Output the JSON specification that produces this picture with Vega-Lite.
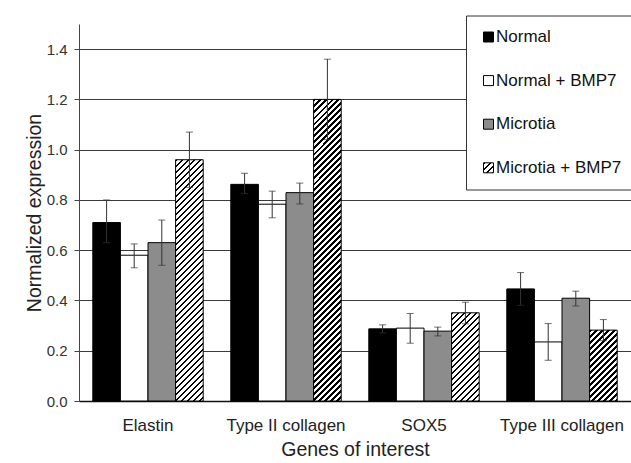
{
  "$schema": "https://vega.github.io/schema/vega-lite/v6.json",
  "width": 552,
  "height": 377,
  "autosize": {"type": "none"},
  "padding": {"left": 79, "top": 24, "right": 0, "bottom": 62},
  "background": "white",
  "config": {
    "font": "Liberation Sans",
    "view": {"stroke": null}
  },
  "params": [
    {"name": "hatch", "value": [
      {"offset":0,"color":"#000"},{"offset":0.00727,"color":"#000"},{"offset":0.00727,"color":"#fff"},{"offset":0.01818,"color":"#fff"},
      {"offset":0.01818,"color":"#000"},{"offset":0.02545,"color":"#000"},{"offset":0.02545,"color":"#fff"},{"offset":0.03636,"color":"#fff"},
      {"offset":0.03636,"color":"#000"},{"offset":0.04364,"color":"#000"},{"offset":0.04364,"color":"#fff"},{"offset":0.05455,"color":"#fff"},
      {"offset":0.05455,"color":"#000"},{"offset":0.06182,"color":"#000"},{"offset":0.06182,"color":"#fff"},{"offset":0.07273,"color":"#fff"},
      {"offset":0.07273,"color":"#000"},{"offset":0.08,"color":"#000"},{"offset":0.08,"color":"#fff"},{"offset":0.09091,"color":"#fff"},
      {"offset":0.09091,"color":"#000"},{"offset":0.09818,"color":"#000"},{"offset":0.09818,"color":"#fff"},{"offset":0.10909,"color":"#fff"},
      {"offset":0.10909,"color":"#000"},{"offset":0.11636,"color":"#000"},{"offset":0.11636,"color":"#fff"},{"offset":0.12727,"color":"#fff"},
      {"offset":0.12727,"color":"#000"},{"offset":0.13455,"color":"#000"},{"offset":0.13455,"color":"#fff"},{"offset":0.14545,"color":"#fff"},
      {"offset":0.14545,"color":"#000"},{"offset":0.15273,"color":"#000"},{"offset":0.15273,"color":"#fff"},{"offset":0.16364,"color":"#fff"},
      {"offset":0.16364,"color":"#000"},{"offset":0.17091,"color":"#000"},{"offset":0.17091,"color":"#fff"},{"offset":0.18182,"color":"#fff"},
      {"offset":0.18182,"color":"#000"},{"offset":0.18909,"color":"#000"},{"offset":0.18909,"color":"#fff"},{"offset":0.2,"color":"#fff"},
      {"offset":0.2,"color":"#000"},{"offset":0.20727,"color":"#000"},{"offset":0.20727,"color":"#fff"},{"offset":0.21818,"color":"#fff"},
      {"offset":0.21818,"color":"#000"},{"offset":0.22545,"color":"#000"},{"offset":0.22545,"color":"#fff"},{"offset":0.23636,"color":"#fff"},
      {"offset":0.23636,"color":"#000"},{"offset":0.24364,"color":"#000"},{"offset":0.24364,"color":"#fff"},{"offset":0.25455,"color":"#fff"},
      {"offset":0.25455,"color":"#000"},{"offset":0.26182,"color":"#000"},{"offset":0.26182,"color":"#fff"},{"offset":0.27273,"color":"#fff"},
      {"offset":0.27273,"color":"#000"},{"offset":0.28,"color":"#000"},{"offset":0.28,"color":"#fff"},{"offset":0.29091,"color":"#fff"},
      {"offset":0.29091,"color":"#000"},{"offset":0.29818,"color":"#000"},{"offset":0.29818,"color":"#fff"},{"offset":0.30909,"color":"#fff"},
      {"offset":0.30909,"color":"#000"},{"offset":0.31636,"color":"#000"},{"offset":0.31636,"color":"#fff"},{"offset":0.32727,"color":"#fff"},
      {"offset":0.32727,"color":"#000"},{"offset":0.33455,"color":"#000"},{"offset":0.33455,"color":"#fff"},{"offset":0.34545,"color":"#fff"},
      {"offset":0.34545,"color":"#000"},{"offset":0.35273,"color":"#000"},{"offset":0.35273,"color":"#fff"},{"offset":0.36364,"color":"#fff"},
      {"offset":0.36364,"color":"#000"},{"offset":0.37091,"color":"#000"},{"offset":0.37091,"color":"#fff"},{"offset":0.38182,"color":"#fff"},
      {"offset":0.38182,"color":"#000"},{"offset":0.38909,"color":"#000"},{"offset":0.38909,"color":"#fff"},{"offset":0.4,"color":"#fff"},
      {"offset":0.4,"color":"#000"},{"offset":0.40727,"color":"#000"},{"offset":0.40727,"color":"#fff"},{"offset":0.41818,"color":"#fff"},
      {"offset":0.41818,"color":"#000"},{"offset":0.42545,"color":"#000"},{"offset":0.42545,"color":"#fff"},{"offset":0.43636,"color":"#fff"},
      {"offset":0.43636,"color":"#000"},{"offset":0.44364,"color":"#000"},{"offset":0.44364,"color":"#fff"},{"offset":0.45455,"color":"#fff"},
      {"offset":0.45455,"color":"#000"},{"offset":0.46182,"color":"#000"},{"offset":0.46182,"color":"#fff"},{"offset":0.47273,"color":"#fff"},
      {"offset":0.47273,"color":"#000"},{"offset":0.48,"color":"#000"},{"offset":0.48,"color":"#fff"},{"offset":0.49091,"color":"#fff"},
      {"offset":0.49091,"color":"#000"},{"offset":0.49818,"color":"#000"},{"offset":0.49818,"color":"#fff"},{"offset":0.50909,"color":"#fff"},
      {"offset":0.50909,"color":"#000"},{"offset":0.51636,"color":"#000"},{"offset":0.51636,"color":"#fff"},{"offset":0.52727,"color":"#fff"},
      {"offset":0.52727,"color":"#000"},{"offset":0.53455,"color":"#000"},{"offset":0.53455,"color":"#fff"},{"offset":0.54545,"color":"#fff"},
      {"offset":0.54545,"color":"#000"},{"offset":0.55273,"color":"#000"},{"offset":0.55273,"color":"#fff"},{"offset":0.56364,"color":"#fff"},
      {"offset":0.56364,"color":"#000"},{"offset":0.57091,"color":"#000"},{"offset":0.57091,"color":"#fff"},{"offset":0.58182,"color":"#fff"},
      {"offset":0.58182,"color":"#000"},{"offset":0.58909,"color":"#000"},{"offset":0.58909,"color":"#fff"},{"offset":0.6,"color":"#fff"},
      {"offset":0.6,"color":"#000"},{"offset":0.60727,"color":"#000"},{"offset":0.60727,"color":"#fff"},{"offset":0.61818,"color":"#fff"},
      {"offset":0.61818,"color":"#000"},{"offset":0.62545,"color":"#000"},{"offset":0.62545,"color":"#fff"},{"offset":0.63636,"color":"#fff"},
      {"offset":0.63636,"color":"#000"},{"offset":0.64364,"color":"#000"},{"offset":0.64364,"color":"#fff"},{"offset":0.65455,"color":"#fff"},
      {"offset":0.65455,"color":"#000"},{"offset":0.66182,"color":"#000"},{"offset":0.66182,"color":"#fff"},{"offset":0.67273,"color":"#fff"},
      {"offset":0.67273,"color":"#000"},{"offset":0.68,"color":"#000"},{"offset":0.68,"color":"#fff"},{"offset":0.69091,"color":"#fff"},
      {"offset":0.69091,"color":"#000"},{"offset":0.69818,"color":"#000"},{"offset":0.69818,"color":"#fff"},{"offset":0.70909,"color":"#fff"},
      {"offset":0.70909,"color":"#000"},{"offset":0.71636,"color":"#000"},{"offset":0.71636,"color":"#fff"},{"offset":0.72727,"color":"#fff"},
      {"offset":0.72727,"color":"#000"},{"offset":0.73455,"color":"#000"},{"offset":0.73455,"color":"#fff"},{"offset":0.74545,"color":"#fff"},
      {"offset":0.74545,"color":"#000"},{"offset":0.75273,"color":"#000"},{"offset":0.75273,"color":"#fff"},{"offset":0.76364,"color":"#fff"},
      {"offset":0.76364,"color":"#000"},{"offset":0.77091,"color":"#000"},{"offset":0.77091,"color":"#fff"},{"offset":0.78182,"color":"#fff"},
      {"offset":0.78182,"color":"#000"},{"offset":0.78909,"color":"#000"},{"offset":0.78909,"color":"#fff"},{"offset":0.8,"color":"#fff"},
      {"offset":0.8,"color":"#000"},{"offset":0.80727,"color":"#000"},{"offset":0.80727,"color":"#fff"},{"offset":0.81818,"color":"#fff"},
      {"offset":0.81818,"color":"#000"},{"offset":0.82545,"color":"#000"},{"offset":0.82545,"color":"#fff"},{"offset":0.83636,"color":"#fff"},
      {"offset":0.83636,"color":"#000"},{"offset":0.84364,"color":"#000"},{"offset":0.84364,"color":"#fff"},{"offset":0.85455,"color":"#fff"},
      {"offset":0.85455,"color":"#000"},{"offset":0.86182,"color":"#000"},{"offset":0.86182,"color":"#fff"},{"offset":0.87273,"color":"#fff"},
      {"offset":0.87273,"color":"#000"},{"offset":0.88,"color":"#000"},{"offset":0.88,"color":"#fff"},{"offset":0.89091,"color":"#fff"},
      {"offset":0.89091,"color":"#000"},{"offset":0.89818,"color":"#000"},{"offset":0.89818,"color":"#fff"},{"offset":0.90909,"color":"#fff"},
      {"offset":0.90909,"color":"#000"},{"offset":0.91636,"color":"#000"},{"offset":0.91636,"color":"#fff"},{"offset":0.92727,"color":"#fff"},
      {"offset":0.92727,"color":"#000"},{"offset":0.93455,"color":"#000"},{"offset":0.93455,"color":"#fff"},{"offset":0.94545,"color":"#fff"},
      {"offset":0.94545,"color":"#000"},{"offset":0.95273,"color":"#000"},{"offset":0.95273,"color":"#fff"},{"offset":0.96364,"color":"#fff"},
      {"offset":0.96364,"color":"#000"},{"offset":0.97091,"color":"#000"},{"offset":0.97091,"color":"#fff"},{"offset":0.98182,"color":"#fff"},
      {"offset":0.98182,"color":"#000"},{"offset":0.98909,"color":"#000"},{"offset":0.98909,"color":"#fff"},{"offset":1,"color":"#fff"}
    ]}
  ],
  "data": {
    "values": [
      {"gene": "Elastin", "group": "Normal", "value": 0.71, "lo": 0.63, "hi": 0.80},
      {"gene": "Elastin", "group": "Normal + BMP7", "value": 0.58, "lo": 0.53, "hi": 0.625},
      {"gene": "Elastin", "group": "Microtia", "value": 0.63, "lo": 0.54, "hi": 0.72},
      {"gene": "Elastin", "group": "Microtia + BMP7", "value": 0.96, "lo": 0.85, "hi": 1.07},
      {"gene": "Type II collagen", "group": "Normal", "value": 0.862, "lo": 0.825, "hi": 0.906},
      {"gene": "Type II collagen", "group": "Normal + BMP7", "value": 0.783, "lo": 0.729, "hi": 0.835},
      {"gene": "Type II collagen", "group": "Microtia", "value": 0.829, "lo": 0.784, "hi": 0.867},
      {"gene": "Type II collagen", "group": "Microtia + BMP7", "value": 1.2, "lo": 1.04, "hi": 1.36},
      {"gene": "SOX5", "group": "Normal", "value": 0.287, "lo": 0.271, "hi": 0.303},
      {"gene": "SOX5", "group": "Normal + BMP7", "value": 0.29, "lo": 0.23, "hi": 0.348},
      {"gene": "SOX5", "group": "Microtia", "value": 0.278, "lo": 0.259, "hi": 0.294},
      {"gene": "SOX5", "group": "Microtia + BMP7", "value": 0.351, "lo": 0.307, "hi": 0.393},
      {"gene": "Type III collagen", "group": "Normal", "value": 0.446, "lo": 0.381, "hi": 0.511},
      {"gene": "Type III collagen", "group": "Normal + BMP7", "value": 0.235, "lo": 0.162, "hi": 0.308},
      {"gene": "Type III collagen", "group": "Microtia", "value": 0.409, "lo": 0.378, "hi": 0.437},
      {"gene": "Type III collagen", "group": "Microtia + BMP7", "value": 0.282, "lo": 0.24, "hi": 0.324}
    ]
  },
  "encoding": {
    "x": {
      "field": "gene", "type": "nominal",
      "sort": ["Elastin", "Type II collagen", "SOX5", "Type III collagen"],
      "scale": {"paddingInner": 0.2, "paddingOuter": 0.1},
      "axis": {
        "title": "Genes of interest", "titleFontSize": 19.5, "titleFontWeight": "normal", "titleColor": "#222",
        "titlePadding": 7,
        "labelAngle": 0, "labelFontSize": 17, "labelColor": "#222", "labelPadding": 16.5,
        "ticks": false, "domainColor": "#111", "domainWidth": 1.5, "grid": false
      }
    },
    "xOffset": {
      "field": "group", "type": "nominal",
      "sort": ["Normal", "Normal + BMP7", "Microtia", "Microtia + BMP7"],
      "scale": {"domain": ["Normal", "Normal + BMP7", "Microtia", "Microtia + BMP7"], "paddingInner": 0, "paddingOuter": 0}
    }
  },
  "layer": [
    {
      "mark": {"type": "bar", "stroke": "#000", "strokeWidth": 1},
      "encoding": {
        "y": {
          "field": "value", "type": "quantitative",
          "scale": {"domain": [0, 1.5], "nice": false},
          "axis": {
            "title": "Normalized expression", "titleFontSize": 19.5, "titleFontWeight": "normal", "titleColor": "#222",
            "titlePadding": 2,
            "values": [0, 0.2, 0.4, 0.6, 0.8, 1.0, 1.2, 1.4], "format": ".1f",
            "labelFontSize": 15, "labelColor": "#333", "labelPadding": 7,
            "tickSize": 5, "tickColor": "#444", "domainColor": "#444",
            "grid": true, "gridColor": "#3a3a3a", "gridWidth": 1.2
          }
        },
        "fill": {
          "field": "group", "type": "nominal",
          "scale": {
            "domain": ["Normal", "Normal + BMP7", "Microtia", "Microtia + BMP7"],
            "range": ["#000000", "#ffffff", "#8c8c8c", {"expr": "{gradient: 'linear', x1: 0, y1: 0, x2: 16.5, y2: 16.5, stops: hatch}"}]
          },
          "legend": {
            "title": null, "orient": "none", "legendX": 387, "legendY": -8.5,
            "strokeColor": "#333", "fillColor": "white", "padding": 13,
            "labelFontSize": 17, "labelColor": "#111", "labelOffset": -1,
            "symbolType": "square", "symbolSize": 100, "symbolStrokeWidth": 1, "symbolOffset": 1,
            "rowPadding": 25.6
          },
          "condition": [
            {"test": "datum.group === 'Microtia + BMP7' && datum.gene === 'Elastin'", "value": {"expr": "{gradient: 'linear', x1: 0, y1: 0, x2: 0.15443, y2: 1.35002, stops: hatch}"}},
            {"test": "datum.group === 'Microtia + BMP7' && datum.gene === 'Type II collagen'", "value": {"expr": "{gradient: 'linear', x1: 0, y1: 0, x2: 0.0993, y2: 1.08506, stops: hatch}"}},
            {"test": "datum.group === 'Microtia + BMP7' && datum.gene === 'SOX5'", "value": {"expr": "{gradient: 'linear', x1: 0, y1: 0, x2: 1.06594, y2: 3.40712, stops: hatch}"}},
            {"test": "datum.group === 'Microtia + BMP7' && datum.gene === 'Type III collagen'", "value": {"expr": "{gradient: 'linear', x1: 0, y1: 0, x2: 1.5742, y2: 4.04272, stops: hatch}"}}
          ]
        }
      }
    },
    {
      "mark": {"type": "rule", "color": "#333", "strokeWidth": 1},
      "encoding": {
        "y": {"field": "lo", "type": "quantitative"},
        "y2": {"field": "hi"}
      }
    },
    {
      "mark": {"type": "tick", "color": "#333", "thickness": 1, "size": 7, "orient": "horizontal"},
      "encoding": {
        "y": {"field": "lo", "type": "quantitative"}
      }
    },
    {
      "mark": {"type": "tick", "color": "#333", "thickness": 1, "size": 7, "orient": "horizontal"},
      "encoding": {
        "y": {"field": "hi", "type": "quantitative"}
      }
    }
  ]
}
